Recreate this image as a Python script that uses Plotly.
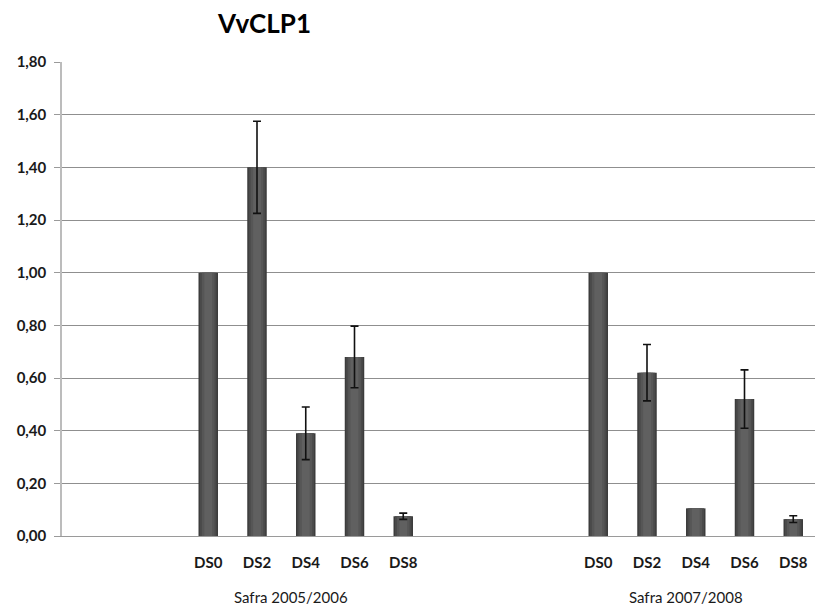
import plotly.graph_objects as go

# ---- data ----
categories = ["DS0", "DS2", "DS4", "DS6", "DS8"]
groups = ["Safra 2005/2006", "Safra 2007/2008"]
values_2005 = [1.00, 1.40, 0.39, 0.68, 0.075]
errors_2005 = [None, 0.175, 0.10, 0.117, 0.012]
values_2007 = [1.00, 0.62, 0.105, 0.52, 0.064]
errors_2007 = [None, 0.107, None, 0.111, 0.013]
y_ticks = [0.0, 0.2, 0.4, 0.6, 0.8, 1.0, 1.2, 1.4, 1.6, 1.8]

# ---- layout positions (slot units) ----
group_start = [3, 11]
group_label_x = [4.70, 12.79]

xs, ys, es, labels = [], [], [], []
for g, (vals, errs) in enumerate([(values_2005, errors_2005), (values_2007, errors_2007)]):
    for i, c in enumerate(categories):
        xs.append(group_start[g] + i)
        ys.append(vals[i])
        es.append(errs[i])
        labels.append(c)

FONT = "Lato, 'Open Sans', sans-serif"
fig = go.Figure()

# layered bars to imitate the cylinder-like gradient
layers = [(0.40, "#3c3c3c"), (0.34, "#4a4a4a"), (0.26, "#565656"), (0.16, "#606060")]
for k, (w, col) in enumerate(layers):
    fig.add_trace(go.Bar(
        x=xs, y=ys, width=w,
        marker=dict(color=col, line=dict(width=0)),
        hoverinfo="skip" if k < len(layers) - 1 else None,
        showlegend=False,
    ))

# error bars only where an error exists
ex = [x for x, e in zip(xs, es) if e is not None]
ey = [y for y, e in zip(ys, es) if e is not None]
ee = [e for e in es if e is not None]
fig.add_trace(go.Scatter(
    x=ex, y=ey, mode="markers",
    marker=dict(size=1, opacity=0),
    error_y=dict(type="data", array=ee, visible=True, color="#111111",
                 thickness=1.6, width=4),
    showlegend=False, hoverinfo="skip",
))

fig.update_layout(
    width=815, height=614,
    margin=dict(l=62, r=0, t=62, b=78),
    paper_bgcolor="white", plot_bgcolor="white",
    barmode="overlay",
    font=dict(family=FONT, size=13, color="#1a1a1a"),
    xaxis=dict(
        range=[0, 753 / 48.75],
        tickmode="array", tickvals=xs, ticktext=labels,
        showgrid=False, zeroline=False,
        showline=True, linecolor="#9a9a9a", linewidth=1.2,
        ticks="", ticklabelstandoff=13,
        tickfont=dict(family=FONT, size=15, color="#1a1a1a", weight="bold"),
    ),
    yaxis=dict(
        range=[0, 1.8],
        tickmode="array", tickvals=y_ticks,
        ticktext=[f"{v:.2f}".replace(".", ",") for v in y_ticks],
        showgrid=True, gridcolor="#8f8f8f", gridwidth=1,
        zeroline=False,
        showline=True, linecolor="#bcbcbc", linewidth=1.5,
        ticks="outside", ticklen=6, tickcolor="#9a9a9a",
        ticklabelstandoff=5,
        tickfont=dict(family=FONT, size=15, color="#1a1a1a", weight="bold"),
    ),
)

for gx, name in zip(group_label_x, groups):
    fig.add_annotation(x=gx, xref="x", y=-0.1287, yref="paper",
                       text=name, showarrow=False, xanchor="center", yanchor="middle",
                       font=dict(family=FONT, size=15, color="#1a1a1a"))

fig.add_annotation(x=0.2676, xref="paper", y=1.082, yref="paper",
                   text="<b>VvCLP1</b>", showarrow=False,
                   xanchor="center", yanchor="middle",
                   font=dict(family=FONT, size=26, color="#000000"))

fig.write_html("out.html")
